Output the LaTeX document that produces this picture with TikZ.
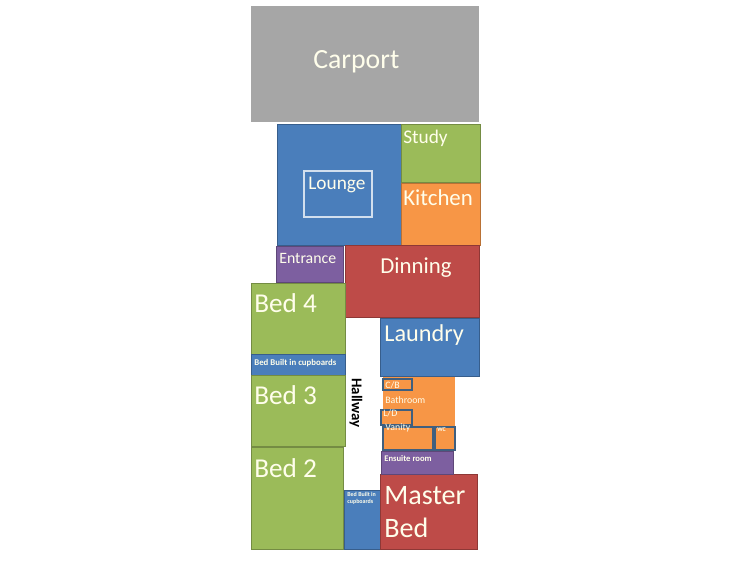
\documentclass[tikz,border=0pt]{standalone}
\usepackage{fontspec}
\setmainfont{Carlito}
\usetikzlibrary{positioning}
\definecolor{myblue}{HTML}{4A7EBB}
\definecolor{mygreen}{HTML}{9BBB59}
\definecolor{myred}{HTML}{BE4B48}
\definecolor{myorange}{HTML}{F79646}
\definecolor{mypurple}{HTML}{7D5FA0}
\definecolor{mygray}{HTML}{A6A6A6}
\definecolor{myedge}{HTML}{3F5F7F}
\tikzset{
  room/.style={draw=#1!75!black, line width=0.5pt, fill=#1},
  outlined/.style={draw=myedge, line width=0.9pt},
  label/.style={inner sep=0, anchor=west, text=white!92!#1},
  label/.default=yellow,
  tiny/.style={label, font=\fontsize{3.4}{4}\selectfont\bfseries},
  small/.style={label, font=\fontsize{5.6}{6}\selectfont},
}
\begin{document}
\begin{tikzpicture}[x=0.02cm, y=-0.02cm]
  \useasboundingbox (0,0) rectangle (750,563);
  \fill[white] (0,0) rectangle (750,563);

  % top of the house
  \fill[mygray] (251,6) rectangle (479,122);
  \draw[room=myblue] (277,124) rectangle (401,245);
  \draw[white!75!myblue, line width=0.6pt] (304,171) rectangle (372,217);
  \draw[room=mygreen] (401,124) rectangle (480,182);
  \draw[room=myorange] (401,183) rectangle (480,245);
  \draw[room=mypurple] (276,246) rectangle (343,282);
  \draw[room=myred] (345,245) rectangle (479,317);

  % bedrooms
  \draw[room=mygreen] (251,283) rectangle (345,354);
  \draw[room=myblue] (251,354) rectangle (345,375);
  \draw[room=mygreen] (251,375) rectangle (345,446);
  \draw[room=mygreen] (251,447) rectangle (343,549);
  \draw[room=myblue] (344,490) rectangle (380,549);
  \draw[room=myred] (380,474) rectangle (477,549);

  % wet areas
  \draw[room=myblue] (380,318) rectangle (479,376);
  \fill[myorange] (383,377) rectangle (455,426);
  \draw[outlined, fill=myorange] (383,379) rectangle (412,390);
  \draw[outlined, fill=myorange] (381,410) rectangle (412,425);
  \draw[outlined, fill=myorange] (383,427) rectangle (433,450);
  \draw[outlined, fill=myorange] (435,427) rectangle (455,450);
  \draw[room=mypurple] (381,451) rectangle (453,474);

  \node[label, font=\fontsize{15.8}{18}\selectfont] (carport) at (313,62) {Carport};
  \node[label, font=\fontsize{11}{13}\selectfont] (lounge) at (308,185) {Lounge};
  \node[label, font=\fontsize{11}{13}\selectfont] (study) at (403,138) {Study};
  \node[label, font=\fontsize{13}{15}\selectfont] (kitchen) at (403,198) {Kitchen};
  \node[label, font=\fontsize{9}{11}\selectfont] (entrance) at (279,258) {Entrance};
  \node[label, font=\fontsize{13}{15}\selectfont] (dinning) at (380,268) {Dinning};
  \node[label, font=\fontsize{15.5}{18}\selectfont] (bed4) at (254,303) {Bed 4};
  \node[label, font=\fontsize{13.8}{16}\selectfont] (laundry) at (384,335) {Laundry};
  \node[label, font=\fontsize{5}{6}\selectfont\bfseries] (cupboard4) at (254,363) {Bed Built in cupboards};
  \node[label, font=\fontsize{15.5}{18}\selectfont] (bed3) at (254,395) {Bed 3};
  \node[label, font=\fontsize{15.5}{18}\selectfont] (bed2) at (254,468) {Bed 2};
  \node[label, align=left, font=\fontsize{16}{18.5}\selectfont] (master) at (384,512) {Master\\Bed};
  \node[tiny, align=left] (cupboard2) at (347,498) {Bed Built in\\cupboards};
  \node[small] (cb) at (385,385) {C/B};
  \node[small] (bathroom) at (385,400) {Bathroom};
  \node[small] (ld) at (383,413) {L/D};
  \node[small] (vanity) at (385,428) {Vanity};
  \node[tiny] (wc) at (437,430) {WC};
  \node[label, font=\fontsize{4.9}{6}\selectfont\bfseries] (ensuite) at (384,459) {Ensuite room};
  \node[inner sep=0, rotate=-90, font=\fontsize{8.5}{10}\selectfont\bfseries] (hallway) at (356,403) {Hallway};
\end{tikzpicture}
\end{document}
